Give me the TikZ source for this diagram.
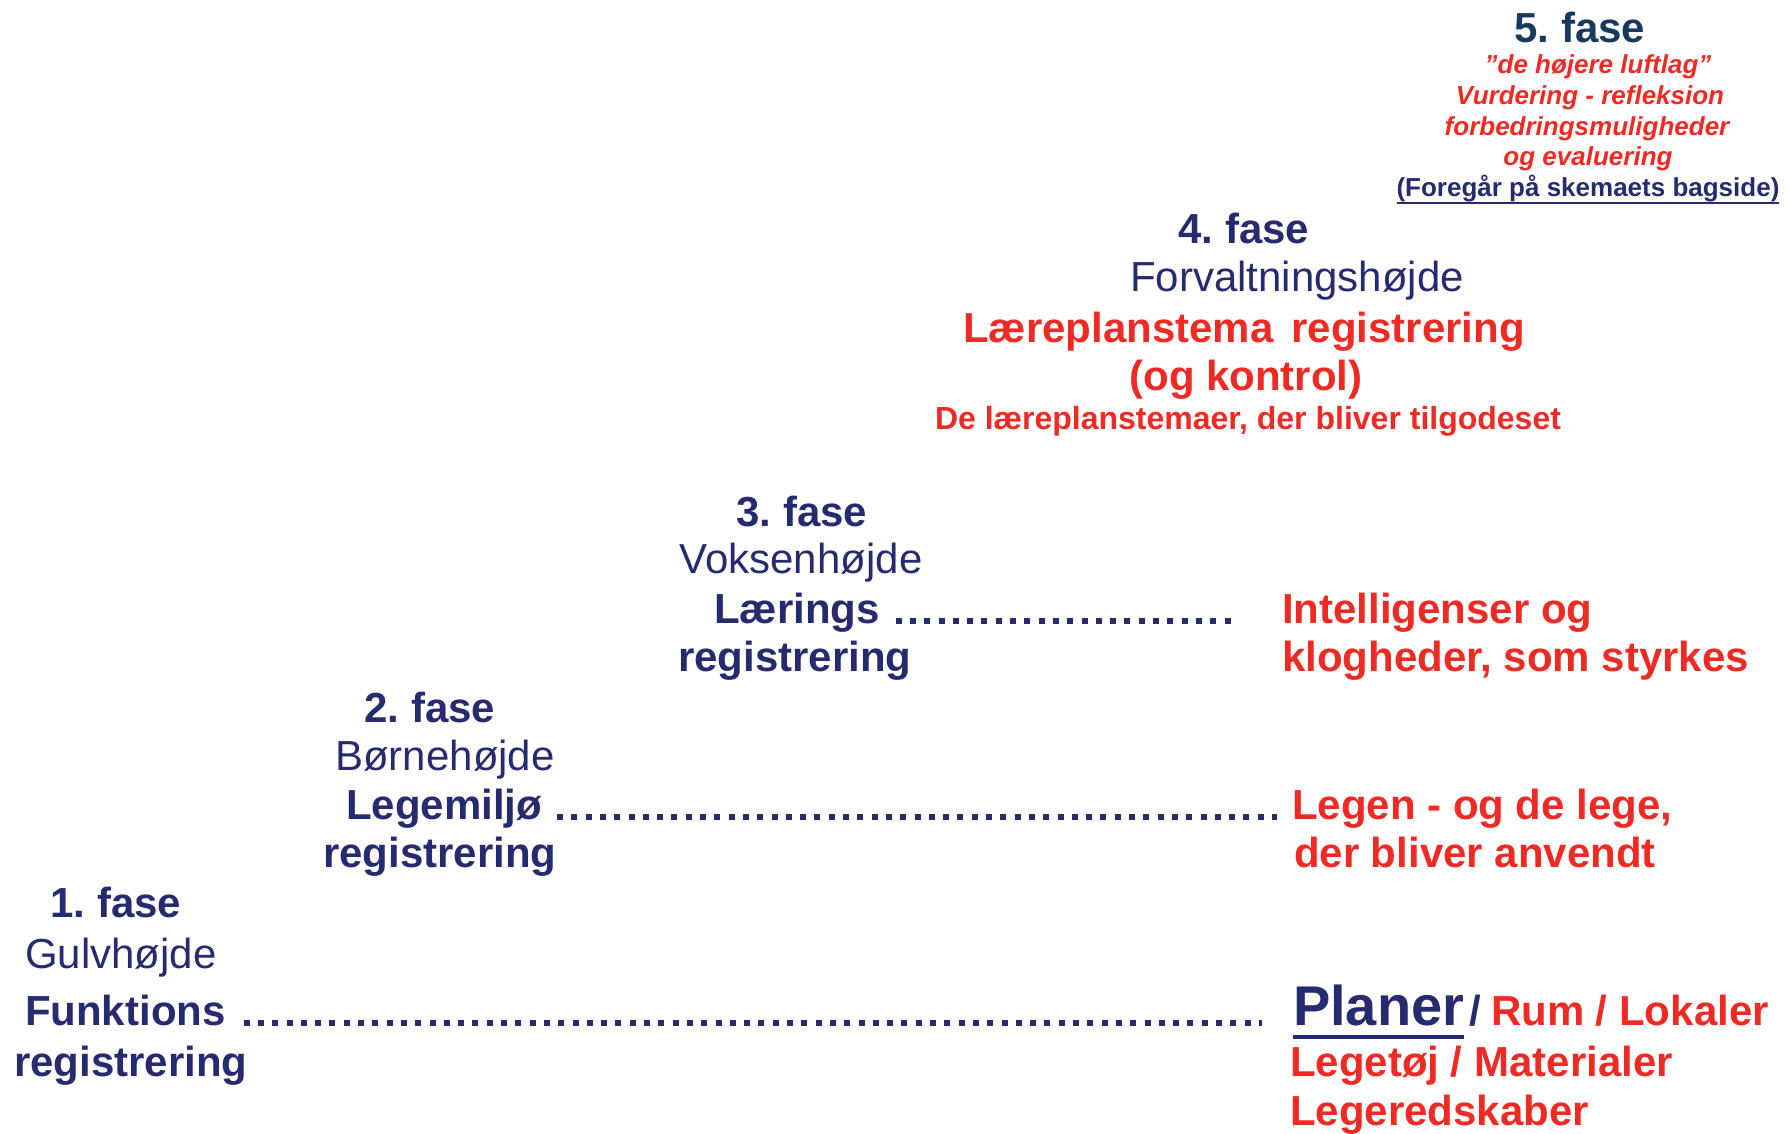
\documentclass[tikz,border=0pt]{standalone}
\usepackage{fontspec}
\setmainfont{Liberation Sans}
\usetikzlibrary{calc}
\frenchspacing
\definecolor{navy}{RGB}{38,42,110}
\definecolor{deepblue}{RGB}{23,58,94}
\definecolor{hred}{RGB}{238,42,36}
\newcommand\fbig{\fontsize{42}{48}\selectfont}
\newcommand\fmid{\fontsize{32}{36}\selectfont}
\newcommand\fsmall{\fontsize{26}{31}\selectfont}
\newcommand\fhuge{\fontsize{56}{60}\selectfont}
\begin{document}
\begin{tikzpicture}[x=1pt,y=-1pt,
  every node/.style={inner sep=0pt,outer sep=0pt},
  phase/.style={text=navy,font=\fbig\bfseries,anchor=base},
  height/.style={text=navy,font=\fbig,anchor=base},
  navyb/.style={text=navy,font=\fbig\bfseries,anchor=base west},
  redb/.style={text=hred,font=\fbig\bfseries,anchor=base west},
  redc/.style={text=hred,font=\fbig\bfseries,anchor=base},
  redsi/.style={text=hred,font=\fsmall\bfseries\itshape,anchor=base},
  leader/.style={draw=navy,line width=6pt,dash pattern=on 6pt off 8.3pt,line cap=butt}]
\useasboundingbox (0,0) rectangle (1789,1133);
% phase 5
\node[phase,text=deepblue] (p5) at (1580,42) {5. fase};
\node[redsi] (p5a) at (1598,73) {”de højere luftlag”};
\node[redsi] (p5b) at (1590,104) {Vurdering - refleksion};
\node[redsi] (p5c) at (1587,135) {forbedringsmuligheder};
\node[redsi] (p5d) at (1588,165) {og evaluering};
\node[text=navy,font=\fsmall\bfseries,anchor=base] (p5e) at (1588,196) {(Foregår på skemaets bagside)};
\draw[navy,line width=2.2pt] ($(p5e.base west)+(0,7)$) -- ($(p5e.base east)+(0,7)$);
% phase 4
\node[phase] (p4) at (1244,243) {4. fase};
\node[height] (h4) at (1297,291) {Forvaltningshøjde};
\node[redc] (r4a) at (1244,342) {Læreplanstema\hspace{0.15em} registrering};
\node[redc] (r4b) at (1246,390) {(og kontrol)};
\node[text=hred,font=\fmid\bfseries,anchor=base] (r4c) at (1248,429) {De læreplanstemaer, der bliver tilgodeset};
% phase 3
\node[phase] (p3) at (802,526) {3. fase};
\node[height] (h3) at (801,573) {Voksenhøjde};
\node[navyb] (l3a) at (714,623) {Lærings};
\node[navyb] (l3b) at (678,671) {registrering};
\node[redb] (r3a) at (1282,623) {Intelligenser og};
\node[redb] (r3b) at (1282,671) {klogheder, som styrkes};
\draw[leader] ([xshift=16pt,yshift=2pt]l3a.base east) -- ([xshift=-51pt,yshift=2pt]r3a.base west);
% phase 2
\node[phase] (p2) at (430,722) {2. fase};
\node[height] (h2) at (445,770) {Børnehøjde};
\node[navyb] (l2a) at (346,819) {Legemiljø};
\node[navyb] (l2b) at (323,867) {registrering};
\node[redb] (r2a) at (1292,819) {Legen - og de lege,};
\node[redb] (r2b) at (1294,867) {der bliver anvendt};
\draw[leader] ([xshift=15pt,yshift=2pt]l2a.base east) -- ([xshift=-15pt,yshift=2pt]r2a.base west);
% phase 1
\node[phase] (p1) at (116,917) {1. fase};
\node[height] (h1) at (121,968) {Gulvhøjde};
\node[navyb] (l1a) at (25,1025) {Funktions};
\node[navyb] (l1b) at (14,1076) {registrering};
\node[text=navy,font=\fhuge\bfseries,anchor=base west] (pl) at (1293,1025) {Planer};
\draw[navy,line width=4pt] ($(pl.base west)+(0,12)$) -- ($(pl.base east)+(0,12)$);
\node[navyb] (sl) at (1469,1025) {/};
\node[redb] (r1a) at (1491,1025) {Rum / Lokaler};
\node[redb] (r1b) at (1290,1076) {Legetøj / Materialer};
\node[redb] (r1c) at (1290,1125) {Legeredskaber};
\draw[leader] ([xshift=18pt,yshift=2pt]l1a.base east) -- ([xshift=-31pt,yshift=2pt]pl.base west);
\end{tikzpicture}
\end{document}
